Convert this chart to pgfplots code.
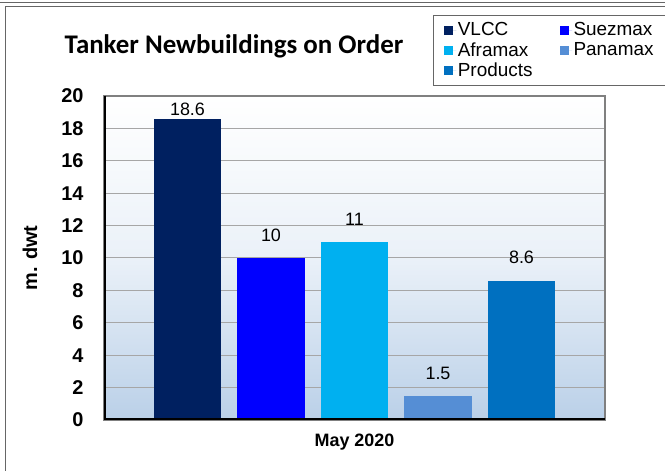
\documentclass[border=0pt]{standalone}
\usepackage{fontspec}
\setmainfont{Liberation Sans}
\newfontfamily\carlito{Carlito}
\usepackage{pgfplots}
\pgfplotsset{compat=1.18}
\definecolor{cVLCC}{HTML}{002060}
\definecolor{cSuez}{HTML}{0000FF}
\definecolor{cAfra}{HTML}{00B0F0}
\definecolor{cPana}{HTML}{558ED5}
\definecolor{cProd}{HTML}{0070C0}
\definecolor{bgblue}{HTML}{BAD0E8}
\definecolor{gridgray}{HTML}{A6A6A6}
\begin{document}
\begin{tikzpicture}
\useasboundingbox (0,0) rectangle (665bp,471bp);
\draw[gray!80!black, line width=1bp] (0,468bp) -- (665bp,468bp);
\draw[gray!80!black, line width=1bp] (5.5bp,-5bp) -- (5.5bp,464bp) -- (670bp,464bp);
\node[font=\carlito\bfseries\fontsize{27}{29}\selectfont] at (234bp,425bp) {Tanker Newbuildings on Order};
\begin{axis}[
  at={(104bp,51bp)}, anchor=south west,
  scale only axis, width=501bp, height=324bp,
  xmin=-1, xmax=5, ymin=0, ymax=20,
  ytick={0,2,...,20}, xtick=\empty,
  ybar, bar width=67bp, bar shift=0bp,
  axis background/.style={top color=white, bottom color=bgblue, middle color=white!70!bgblue},
  ymajorgrids, grid style={gridgray, line width=1bp},
  axis line style={draw=gray, line width=1.5bp},
  tick style={draw=none},
  /pgf/number format/assume math mode=true,
  yticklabel style={font=\bfseries\fontsize{20}{20}\selectfont, xshift=-17bp},
  ylabel={\bfseries m. dwt},
  ylabel style={font=\fontsize{20}{20}\selectfont, at={(rel axis cs:0,0.5)}, yshift=74bp, anchor=center},
  xlabel={\bfseries May 2020}, xlabel style={font=\fontsize{18}{18}\selectfont, yshift=-6bp},
  nodes near coords,
  every node near coord/.append style={font=\fontsize{18}{18}\selectfont, black, yshift=13bp},
  legend columns=2, legend cell align=left,
  legend style={at={(0.657,1.25)}, anchor=north west, draw=gray!80!black, font=\fontsize{19}{22}\selectfont,
    /tikz/every even column/.append style={column sep=26bp}, inner xsep=11bp, inner ysep=6bp,
    row sep=2bp, nodes={inner sep=1.5bp}},
  legend image code/.code={\fill[#1] (0bp,-4.5bp) rectangle (9bp,4.5bp); \path (0bp,0bp) -- (12bp,0bp);},
]
\addplot[draw=none, fill=cVLCC, every node near coord/.append style={yshift=-14bp}] coordinates {(0,18.6)};
\addplot[draw=none, fill=cSuez] coordinates {(1,10)};
\addplot[draw=none, fill=cAfra] coordinates {(2,11)};
\addplot[draw=none, fill=cPana] coordinates {(3,1.5)};
\addplot[draw=none, fill=cProd] coordinates {(4,8.6)};
\legend{VLCC,Suezmax,Aframax,Panamax,Products}
\draw[black, line width=3.5bp] (rel axis cs:0,1) -- (rel axis cs:0,0) -- (rel axis cs:1,0);
\end{axis}
\end{tikzpicture}
\end{document}
